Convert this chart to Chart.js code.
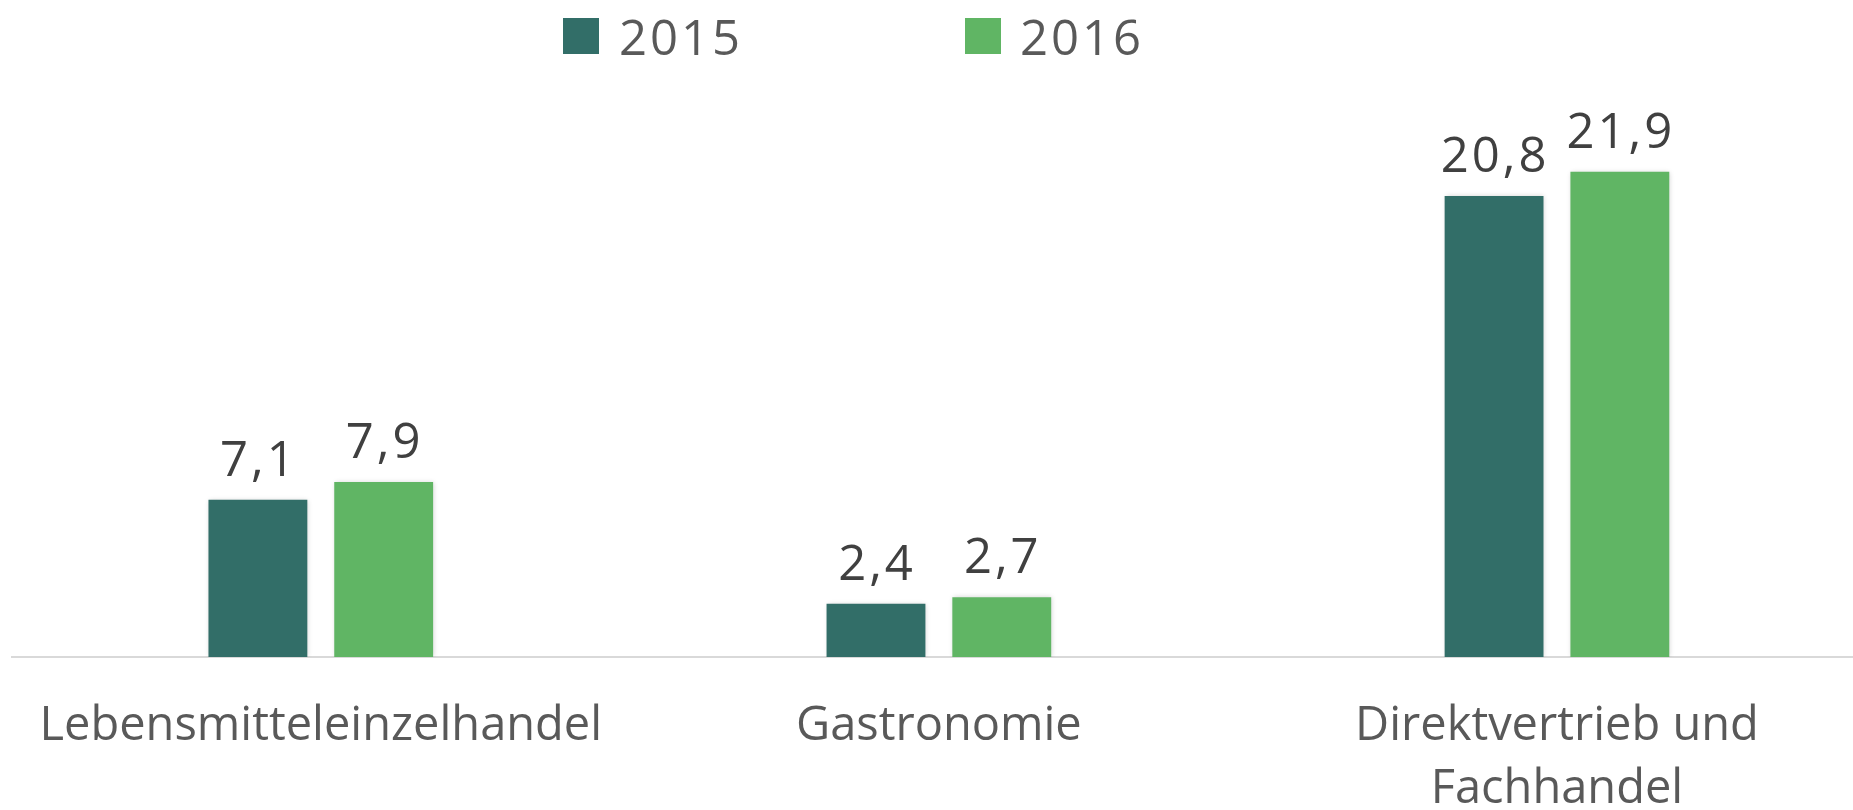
<!DOCTYPE html>
<html>
<head>
<meta charset="utf-8">
<script src="https://cdn.jsdelivr.net/npm/chart.js@4.4.0/dist/chart.umd.min.js"></script>
<style>
  html, body { margin: 0; padding: 0; background: #fff; overflow: hidden; }
  #wrap { width: 1853px; height: 810px; overflow: hidden; }
</style>
</head>
<body>
<!-- plot runs past the right edge in the original, so the canvas is a bit wider than the window -->
<div id="wrap"><canvas id="chart" width="1866" height="810"></canvas></div>
<script>
const categories = ["Lebensmitteleinzelhandel", "Gastronomie", ["Direktvertrieb und", "Fachhandel"]];
const seriesNames = ["2015", "2016"];
const values2015 = [7.1, 2.4, 20.8];
const values2016 = [7.9, 2.7, 21.9];
const seriesColors = ["#326E68", "#60B564"];

const FONT = "'Open Sans', 'DejaVu Sans', sans-serif";

// value labels above each bar, German decimal comma
const valueLabels = {
  id: "valueLabels",
  afterDatasetsDraw(chart) {
    const ctx = chart.ctx;
    ctx.save();
    ctx.font = "49px " + FONT;
    ctx.letterSpacing = "3px";
    ctx.fillStyle = "#404040";
    ctx.textAlign = "center";
    ctx.textBaseline = "alphabetic";
    chart.data.datasets.forEach((ds, i) => {
      chart.getDatasetMeta(i).data.forEach((bar, j) => {
        const txt = ds.data[j].toFixed(1).replace(".", ",");
        ctx.fillText(txt, bar.x + 1, bar.y - 24);
      });
    });
    ctx.restore();
  },
};

// faint shadow round the bars
const barShadow = {
  id: "barShadow",
  beforeDatasetsDraw(chart) {
    const ctx = chart.ctx;
    ctx.save();
    ctx.shadowColor = "rgba(0,0,0,0.18)";
    ctx.shadowBlur = 5;
    ctx.shadowOffsetX = 1;
    ctx.shadowOffsetY = 0;
  },
  afterDatasetsDraw(chart) {
    chart.ctx.restore();
  },
};

// legend keys, drawn at the top (the original is not centred on the canvas)
const legendKeys = {
  id: "legendKeys",
  afterDraw(chart) {
    const ctx = chart.ctx;
    const boxX = [563, 965];
    const textX = [619, 1020];
    ctx.save();
    ctx.font = "49px " + FONT;
    ctx.letterSpacing = "3px";
    ctx.textBaseline = "alphabetic";
    ctx.textAlign = "left";
    chart.data.datasets.forEach((ds, i) => {
      ctx.fillStyle = ds.backgroundColor;
      ctx.fillRect(boxX[i], 18, 36, 36);
      ctx.fillStyle = "#595959";
      ctx.fillText(ds.label, textX[i], 55);
    });
    ctx.restore();
  },
};

new Chart(document.getElementById("chart"), {
  type: "bar",
  data: {
    labels: categories,
    datasets: [
      { label: seriesNames[0], data: values2015, backgroundColor: seriesColors[0], categoryPercentage: 0.407, barPercentage: 0.786 },
      { label: seriesNames[1], data: values2016, backgroundColor: seriesColors[1], categoryPercentage: 0.407, barPercentage: 0.786 },
    ],
  },
  options: {
    responsive: false,
    devicePixelRatio: 1,
    animation: false,
    layout: { padding: { top: 103, left: 9, right: 0, bottom: 0 } },
    plugins: { legend: { display: false }, tooltip: { enabled: false } },
    scales: {
      x: {
        grid: { display: false, drawTicks: false },
        border: { display: true, color: "#D9D9D9", width: 2 },
        ticks: {
          color: "#595959",
          font: { family: FONT, size: 47, lineHeight: 1.34 },
          padding: 38,
          maxRotation: 0,
          autoSkip: false,
        },
        afterFit(scale) { scale.height = 153; },
      },
      y: { display: false, min: 0, max: 25 },
    },
  },
  plugins: [barShadow, valueLabels, legendKeys],
});
</script>
</body>
</html>
